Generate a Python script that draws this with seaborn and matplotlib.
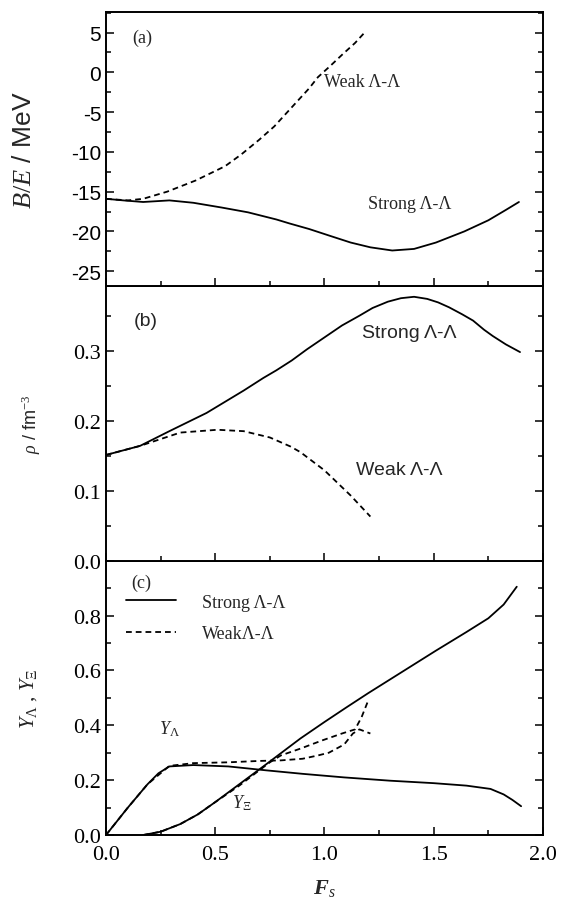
import matplotlib
matplotlib.use("Agg")
import matplotlib.pyplot as plt
import numpy as np
import pandas as pd
import seaborn as sns
from matplotlib.ticker import MultipleLocator, FixedLocator, FormatStrFormatter

# ---------------- data ----------------
# (a) binding energy per baryon B/E (MeV) vs F_s
a_strong_F = [0.0, 0.08, 0.17, 0.29, 0.40, 0.53, 0.65, 0.78, 0.84, 0.93, 1.03, 1.12,
              1.21, 1.31, 1.41, 1.51, 1.64, 1.75, 1.83, 1.89]
a_strong_BE = [-15.9, -16.1, -16.3, -16.1, -16.4, -17.0, -17.6, -18.5, -19.0, -19.7, -20.6, -21.4,
               -22.0, -22.4, -22.2, -21.4, -20.0, -18.6, -17.3, -16.3]
a_weak_F = [0.0, 0.10, 0.17, 0.28, 0.41, 0.545, 0.62, 0.70, 0.77, 0.84, 0.93, 0.97,
            1.03, 1.08, 1.14, 1.19]
a_weak_BE = [-15.9, -16.1, -15.9, -15.0, -13.6, -11.8, -10.3, -8.5, -6.8, -4.7, -2.0, -0.6,
             0.9, 2.2, 3.7, 5.2]

# (b) baryon density rho (fm^-3) vs F_s
b_strong_F = [0.0, 0.156, 0.29, 0.46, 0.63, 0.72, 0.78, 0.85, 0.92, 1.00, 1.08, 1.16,
              1.22, 1.29, 1.35, 1.41, 1.47, 1.52, 1.57, 1.63, 1.68, 1.73, 1.77, 1.83, 1.895]
b_strong_rho = [0.151, 0.164, 0.185, 0.211, 0.243, 0.261, 0.272, 0.286, 0.302, 0.319, 0.336, 0.350,
                0.361, 0.370, 0.375, 0.377, 0.374, 0.369, 0.362, 0.352, 0.343, 0.330, 0.321, 0.309, 0.298]
b_weak_F = [0.0, 0.156, 0.34, 0.51, 0.63, 0.75, 0.845, 0.89, 1.00, 1.12, 1.21]
b_weak_rho = [0.151, 0.164, 0.183, 0.187, 0.185, 0.176, 0.163, 0.155, 0.129, 0.093, 0.063]

# (c) fractions Y_Lambda, Y_Xi vs F_s
c_strong_lam_F = [0.0, 0.10, 0.19, 0.24, 0.29, 0.40, 0.56, 0.73, 0.90, 1.09, 1.30, 1.50,
                  1.65, 1.76, 1.82, 1.86, 1.90]
c_strong_lam_Y = [0.0, 0.10, 0.185, 0.225, 0.250, 0.255, 0.250, 0.236, 0.223, 0.210, 0.198, 0.189,
                  0.180, 0.168, 0.148, 0.128, 0.105]
c_strong_xi_F = [0.17, 0.25, 0.34, 0.42, 0.50, 0.61, 0.72, 0.80, 0.89, 1.00, 1.10, 1.20,
                 1.35, 1.51, 1.65, 1.75, 1.82, 1.88]
c_strong_xi_Y = [0.0, 0.012, 0.040, 0.075, 0.120, 0.185, 0.250, 0.298, 0.352, 0.412, 0.465, 0.517,
                 0.592, 0.672, 0.740, 0.790, 0.840, 0.905]
c_weak_lam_F = [0.0, 0.10, 0.19, 0.29, 0.40, 0.56, 0.70, 0.80, 0.90, 0.97, 1.02, 1.09,
                1.13, 1.16, 1.21]
c_weak_lam_Y = [0.0, 0.10, 0.185, 0.252, 0.262, 0.265, 0.270, 0.272, 0.278, 0.290, 0.300, 0.330,
                0.370, 0.385, 0.370]
c_weak_xi_F = [0.17, 0.25, 0.34, 0.42, 0.50, 0.61, 0.70, 0.75, 0.80, 0.89, 0.99, 1.08,
               1.14, 1.17, 1.20]
c_weak_xi_Y = [0.0, 0.012, 0.040, 0.075, 0.120, 0.180, 0.235, 0.265, 0.290, 0.315, 0.345, 0.370,
               0.385, 0.430, 0.490]

a_yticks = [5, 0, -5, -10, -15, -20, -25]
b_yticks = [0.0, 0.1, 0.2, 0.3]
c_yticks = [0.0, 0.2, 0.4, 0.6, 0.8]

labels_strong = "Strong Λ-Λ"
labels_weak = "Weak Λ-Λ"
legend_weak = "WeakΛ-Λ"

# ---------------- style ----------------
sns.set_style("ticks")
plt.rcParams.update({
    "font.family": ["Liberation Serif", "DejaVu Serif"],
    "axes.unicode_minus": False,
    "mathtext.fontset": "custom",
    "mathtext.rm": "Liberation Serif",
    "mathtext.it": "Liberation Serif:italic",
    "mathtext.bf": "Liberation Serif:italic:bold",
    "axes.linewidth": 1.4,
    "axes.edgecolor": "black",
})

SERIF = ["Liberation Serif", "DejaVu Serif"]
SANS = ["Liberation Sans", "DejaVu Sans"]

fig = plt.figure(figsize=(5.78, 9.04), dpi=100)
L, W, H = 0.1834, 0.756, 0.3035
ax_c = fig.add_axes([L, 0.0752, W, H])
ax_b = fig.add_axes([L, 0.0752 + H, W, H])
ax_a = fig.add_axes([L, 0.0752 + 2 * H, W, H])

DASH = (0, (3.2, 2.2))


def draw(ax, xs, ys, dashed=False, label=None):
    df = pd.DataFrame({"F": xs, "v": ys})
    sns.lineplot(data=df, x="F", y="v", ax=ax, color="black", lw=1.3,
                 linestyle=DASH if dashed else "-", estimator=None, sort=False,
                 label=label, legend=False)
    return ax.lines[-1]


def style_axis(ax, ticks, minor, fam, size):
    ax.set_xlim(0, 2.0)
    ax.xaxis.set_major_locator(MultipleLocator(0.5))
    ax.xaxis.set_minor_locator(MultipleLocator(0.25))
    ax.yaxis.set_major_locator(FixedLocator(ticks))
    ax.yaxis.set_minor_locator(MultipleLocator(minor))
    ax.tick_params(which="both", direction="in", right=True, top=False, width=1.1, colors="black")
    ax.tick_params(which="major", length=6)
    ax.tick_params(which="minor", length=3.5)
    ax.tick_params(axis="x", pad=7)
    for lab in ax.get_yticklabels() + ax.get_xticklabels():
        lab.set_family(fam)
        lab.set_fontsize(size)
    for s in ax.spines.values():
        s.set_visible(True)
        s.set_linewidth(1.4)


# ---- panel (a)
draw(ax_a, a_strong_F, a_strong_BE)
draw(ax_a, a_weak_F, a_weak_BE, dashed=True)
ax_a.set_ylim(-26.9, 7.6)
style_axis(ax_a, a_yticks, 2.5, SANS, 15)
ax_a.tick_params(labelbottom=False)
ax_a.set_xlabel("")
ax_a.set_ylabel("$B/E$ / MeV", family=SANS, fontsize=19)
ax_a.yaxis.set_label_coords(-0.16, 0.5)
ax_a.text(0.165, 4.4, "(a)", ha="center", va="center", family=SERIF, fontsize=13)
ax_a.text(1.17, -1.1, labels_weak, ha="center", va="center", family=SERIF, fontsize=13)
ax_a.text(1.39, -16.5, labels_strong, ha="center", va="center", family=SERIF, fontsize=13)

# ---- panel (b)
draw(ax_b, b_strong_F, b_strong_rho)
draw(ax_b, b_weak_F, b_weak_rho, dashed=True)
ax_b.set_ylim(0, 0.392)
ax_b.yaxis.set_major_formatter(FormatStrFormatter("%.1f"))
style_axis(ax_b, b_yticks, 0.05, SERIF, 16)
ax_b.tick_params(labelbottom=False)
ax_b.set_xlabel("")
ax_b.set_ylabel("$\\rho$ / fm$^{-3}$", family=SANS, fontsize=13)
ax_b.yaxis.set_label_coords(-0.145, 0.5)
ax_b.text(0.18, 0.343, "(b)", ha="center", va="center", family=SANS, fontsize=14)
ax_b.text(1.39, 0.326, labels_strong, ha="center", va="center", family=SANS, fontsize=14)
ax_b.text(1.34, 0.130, labels_weak, ha="center", va="center", family=SANS, fontsize=14)

# ---- panel (c)
h_strong = draw(ax_c, c_strong_lam_F, c_strong_lam_Y, label=labels_strong)
draw(ax_c, c_strong_xi_F, c_strong_xi_Y)
h_weak = draw(ax_c, c_weak_lam_F, c_weak_lam_Y, dashed=True, label=legend_weak)
draw(ax_c, c_weak_xi_F, c_weak_xi_Y, dashed=True)
ax_c.set_ylim(0, 1.0)
ax_c.yaxis.set_major_formatter(FormatStrFormatter("%.1f"))
ax_c.xaxis.set_major_formatter(FormatStrFormatter("%.1f"))
style_axis(ax_c, c_yticks, 0.1, SERIF, 16)
ax_c.set_ylabel("$Y_{\\Lambda}$ , $Y_{\\Xi}$", family=SERIF, fontsize=15)
ax_c.yaxis.set_label_coords(-0.153, 0.5)
ax_c.set_xlabel("$\\mathbf{F}_{s}$", family=SERIF, fontsize=16)
ax_c.xaxis.set_label_coords(0.5, -0.19)
ax_c.xaxis.label.set_va("center")
ax_c.text(0.16, 0.92, "(c)", ha="center", va="center", family=SERIF, fontsize=13)
ax_c.text(0.29, 0.39, "$Y_{\\Lambda}$", ha="center", va="center", family=SERIF, fontsize=13)
ax_c.text(0.62, 0.12, "$Y_{\\Xi}$", ha="center", va="center", family=SERIF, fontsize=13)
leg = ax_c.legend(handles=[h_strong, h_weak], labels=[labels_strong, legend_weak],
                  loc="upper left", bbox_to_anchor=(0.045, 0.88), frameon=False,
                  handlelength=2.8, handletextpad=1.4, labelspacing=0.8,
                  borderpad=0, borderaxespad=0, prop={"family": SERIF, "size": 13})

fig.savefig("out.png", dpi=100)
